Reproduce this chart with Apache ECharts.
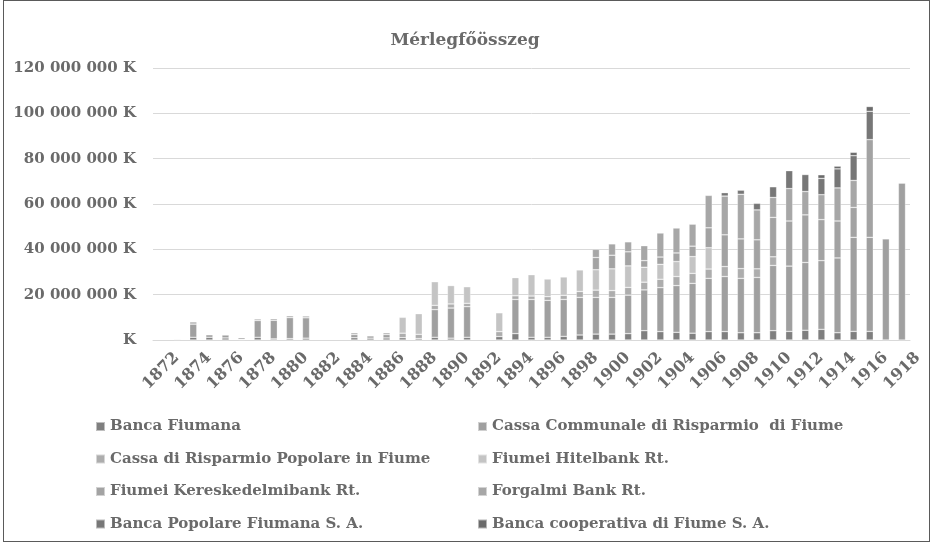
<!DOCTYPE html>
<html>
<head>
<meta charset="utf-8">
<script src="https://cdn.jsdelivr.net/npm/echarts@6/dist/echarts.min.js"></script>
<style>
  html, body { margin: 0; padding: 0; background: #fff; }
  #chart { position: absolute; left: 0; top: 0; width: 930px; height: 542px; }
  #frame { position: absolute; left: 3px; top: 0; width: 925px; height: 540px; border: 1px solid #5a5a5a; pointer-events: none; }
</style>
</head>
<body>
<div id="chart"></div>
<div id="frame"></div>
<script>
// évek 1872-1918, értékek millió K-ban
const years = [];
for (let y = 1872; y <= 1918; y++) years.push(String(y));

const bancaFiumana = [null, null, 1.2, 1.2, 0.9, 0.3, 1.2, 0.5, 0.6, 0.8, null, null, 1.0, 0.8, 0.9, 1.0, 0.6, 1.2, 0.8, 1.2, null, 1.5, 2.8, 1.2, 1.2, 1.6, 2.2, 2.6, 2.6, 2.8, 4.1, 3.7, 3.4, 3.0, 3.7, 3.7, 3.2, 3.2, 4.1, 3.8, 4.3, 4.7, 3.2, 3.8, 3.8, null, null];
const cassaCommunale = [null, 0.3, 5.8, 1.1, 1.3, 0.7, 7.4, 8.2, 9.3, 9.0, null, null, 1.4, 1.0, 1.5, null, null, 12.2, 13.3, 13.5, null, null, 15.1, 16.7, 16.3, 16.3, 16.6, 16.2, 16.2, 17.0, 18.0, 19.4, 20.6, 22.0, 23.5, 24.3, 24.0, 24.4, 28.8, 28.8, 29.9, 30.3, 33.0, 41.5, 41.5, 44.6, 69.2];
const cassaPopolare = [null, null, 1.0, null, null, null, 0.7, 0.7, 0.8, 0.8, null, null, 0.8, null, 0.8, 2.0, 1.9, 1.9, 1.8, 1.5, null, 2.2, 1.6, 1.5, 1.6, 1.8, 2.6, 3.2, 3.0, 3.4, 3.4, 3.7, 4.0, 4.4, 4.1, 4.4, 4.3, 3.8, 3.8, null, null, null, null, null, null, null, null];
const hitelbank = [null, null, null, null, null, null, null, null, null, null, null, null, null, null, null, 7.0, 9.1, 10.4, 8.1, 7.3, null, 8.3, 8.0, 9.4, 7.8, 8.1, 9.5, 9.0, 9.6, 9.5, 6.6, 6.6, 6.6, 7.4, 9.4, null, null, null, null, null, null, null, null, null, null, null, null];
const kereskedelmi = [null, null, null, null, null, null, null, null, null, null, null, null, null, null, null, null, null, null, null, null, null, null, null, null, null, null, null, 5.4, 6.0, 6.2, 2.9, 3.2, 3.8, 4.6, 8.8, 14.0, 13.1, 12.8, 17.4, 19.9, 21.0, 18.1, 16.3, 13.2, 43.1, null, null];
const forgalmi = [null, null, null, null, null, null, null, null, null, null, null, null, null, null, null, null, null, null, null, null, null, null, null, null, null, null, null, 3.6, 5.0, 4.4, 6.6, 10.6, 11.0, 9.7, 14.3, 17.1, 19.7, 13.2, 8.8, 14.3, 10.3, 11.0, 14.6, 11.9, null, null, null];
const popolareFiumana = [null, null, null, null, null, null, null, null, null, null, null, null, null, null, null, null, null, null, null, null, null, null, null, null, null, null, null, null, null, null, null, null, null, null, null, 1.5, 1.8, 2.9, 4.7, 7.9, 7.5, 7.2, 8.4, 10.9, 12.5, null, null];
const cooperativa = [null, null, null, null, null, null, null, null, null, null, null, null, null, null, null, null, null, null, null, null, null, null, null, null, null, null, null, null, null, null, null, null, null, null, null, null, null, null, null, null, null, 1.6, 1.2, 1.5, 2.1, null, null];

const names = [
  'Banca Fiumana',
  'Cassa Communale di Risparmio  di Fiume',
  'Cassa di Risparmio Popolare in Fiume',
  'Fiumei Hitelbank Rt.',
  'Fiumei Kereskedelmibank Rt.',
  'Forgalmi Bank Rt.',
  'Banca Popolare Fiumana S. A.',
  'Banca cooperativa di Fiume S. A.'
];
const values = [bancaFiumana, cassaCommunale, cassaPopolare, hitelbank, kereskedelmi, forgalmi, popolareFiumana, cooperativa];
const colors = ['#7f7f7f', '#a0a0a0', '#adadad', '#c4c4c4', '#a3a3a3', '#a7a7a7', '#777777', '#6b6b6b'];

const font = 'DejaVu Serif';
const textColor = '#6a6a6a';

const myChart = echarts.init(document.getElementById('chart'));

const legendBase = {
  orient: 'vertical',
  top: 413,
  itemWidth: 9,
  itemHeight: 9,
  itemGap: 15.5,
  icon: 'rect',
  selectedMode: false,
  textStyle: { fontFamily: font, fontWeight: 'bold', fontSize: 15, color: textColor, lineHeight: 17 }
};

const option = {
  animation: false,
  color: colors,
  title: {
    text: 'Mérlegfőösszeg',
    left: 'center',
    top: 27,
    textStyle: { fontFamily: font, fontWeight: 'bold', fontSize: 17, color: textColor }
  },
  legend: [
    Object.assign({}, legendBase, { left: 90, data: [names[0], names[2], names[4], names[6]] }),
    Object.assign({}, legendBase, { left: 472, data: [names[1], names[3], names[5], names[7]] })
  ],
  grid: { left: 153, right: 20, top: 68, bottom: 202 },
  xAxis: {
    type: 'category',
    data: years,
    axisLine: { lineStyle: { color: '#d9d9d9', width: 1 } },
    axisTick: { show: false },
    axisLabel: {
      interval: 1,
      rotate: 45,
      align: 'center',
      verticalAlign: 'middle',
      margin: 31,
      fontFamily: font,
      fontWeight: 'bold',
      fontSize: 16,
      color: textColor
    }
  },
  yAxis: {
    type: 'value',
    min: 0,
    max: 120,
    interval: 20,
    axisLine: { show: false },
    axisTick: { show: false },
    splitLine: { lineStyle: { color: '#d9d9d9', width: 1 } },
    axisLabel: {
      margin: 17,
      fontFamily: font,
      fontWeight: 'bold',
      fontSize: 15,
      color: textColor,
      formatter: function (v) {
        return v === 0 ? 'K' : v + ' 000 000 K';
      }
    }
  },
  series: names.map(function (n, i) {
    return {
      name: n,
      type: 'bar',
      stack: 'total',
      barCategoryGap: '56%',
      data: values[i],
      itemStyle: { color: colors[i], borderColor: 'rgba(255,255,255,0.5)', borderWidth: 0.6 }
    };
  })
};

myChart.setOption(option);
window.addEventListener('resize', function () {
  myChart.resize();
});
</script>
</body>
</html>
